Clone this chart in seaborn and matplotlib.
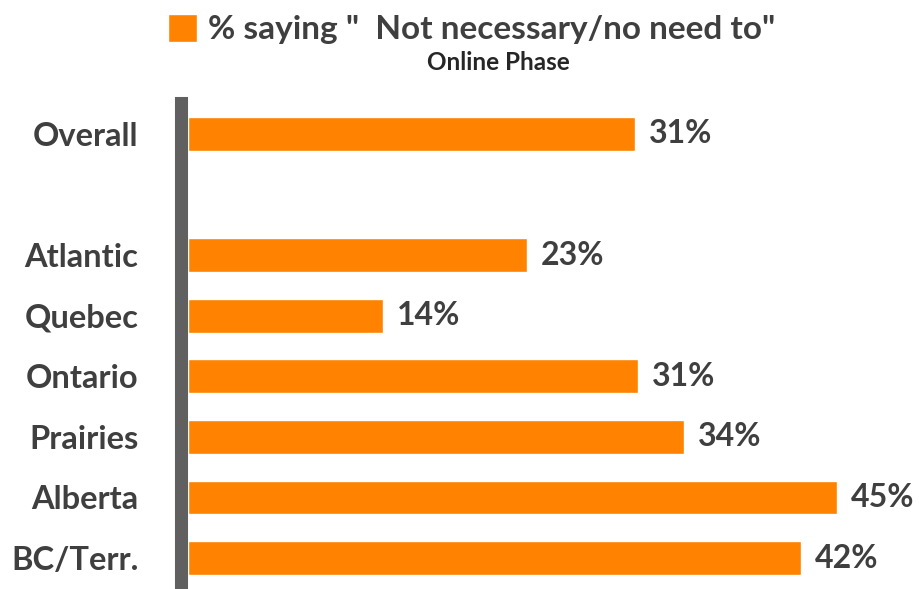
import matplotlib.pyplot as plt
import pandas as pd
import seaborn as sns

# data (bar lengths estimated, labels as printed)
regions = ['Overall', 'Atlantic', 'Quebec', 'Ontario', 'Prairies', 'Alberta', 'BC/Terr.']
pct = [31.0, 23.5, 13.5, 31.2, 34.4, 45.0, 42.5]
pct_labels = ['31%', '23%', '14%', '31%', '34%', '45%', '42%']
order = ['Overall', '', 'Atlantic', 'Quebec', 'Ontario', 'Prairies', 'Alberta', 'BC/Terr.']
series_label = '% saying "  Not necessary/no need to"'
subtitle = 'Online Phase'

df = pd.DataFrame({'region': regions, 'pct': pct})

sns.set_style('white')
plt.rcParams['font.family'] = ['Lato', 'DejaVu Sans']

orange = '#FF8200'
grey_txt = '#3F3F3F'

fig = plt.figure(figsize=(9.2, 5.89), dpi=100)
ax = fig.add_axes([188 / 920, 0, 1 - 188 / 920, 1 - 103 / 589])

sns.barplot(data=df, x='pct', y='region', order=order, orient='h', color=orange,
            saturation=1, width=0.56, ax=ax, label=series_label)

ax.set_xlim(0, (920 - 188) / 14.43)
ax.set_ylim(7.51, -0.51)
ax.set_xlabel('')
ax.set_ylabel('')
ax.set_xticks([])
ax.tick_params(axis='y', length=0, pad=31, labelsize=23.5, labelcolor=grey_txt)

# value labels
for cont in ax.containers:
    ax.bar_label(cont, labels=pct_labels, padding=10,
                 fontsize=23, fontweight='bold', color=grey_txt)

for s in ['top', 'right', 'bottom']:
    ax.spines[s].set_visible(False)
ax.spines['left'].set_color('#606060')
ax.spines['left'].set_linewidth(9.4)
ax.spines['left'].set_position(('outward', 4.7))

leg = ax.legend(loc='center', bbox_to_anchor=(472 / 920, 1 - 29 / 589),
                bbox_transform=fig.transFigure, frameon=False,
                handlelength=0.85, handleheight=0.9, handletextpad=0.35,
                prop={'size': 24, 'weight': 'bold'})
for t in leg.get_texts():
    t.set_color(grey_txt)

fig.text(498 / 920, 1 - 63 / 589, subtitle, ha='center', va='center',
         fontsize=17.5, fontweight='bold', color='#262626')

fig.canvas.draw()
for t in ax.get_yticklabels():
    t.set_fontweight('bold')

fig.savefig('out.png', dpi=100)
